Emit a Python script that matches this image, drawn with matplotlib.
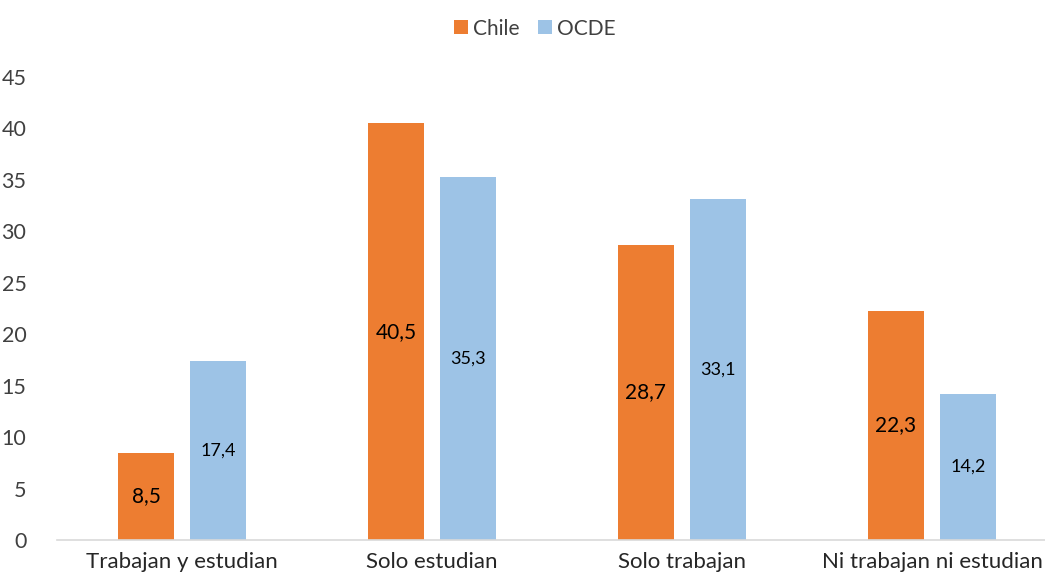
import matplotlib.pyplot as plt
import numpy as np

categorias = ['Trabajan y estudian', 'Solo estudian', 'Solo trabajan', 'Ni trabajan ni estudian']
chile = [8.5, 40.5, 28.7, 22.3]
ocde = [17.4, 35.3, 33.1, 14.2]

NARANJA = '#ED7D31'
CELESTE = '#9DC3E6'

plt.rcParams['font.family'] = ['Lato', 'DejaVu Sans']

fig = plt.figure(figsize=(10.45, 5.81), dpi=100)
ax = fig.add_axes([57 / 1045, 41 / 581, 1000 / 1045, 463 / 581])

x = np.arange(len(categorias))
w = 0.224
off = 0.144
b1 = ax.bar(x - off, chile, w, color=NARANJA, label='Chile')
b2 = ax.bar(x + off, ocde, w, color=CELESTE, label='OCDE')

def fmt(v):
    return f'{v:.1f}'.replace('.', ',')

ax.bar_label(b1, labels=[fmt(v) for v in chile], label_type='center',
             fontsize=15, color='#000000')
ax.bar_label(b2, labels=[fmt(v) for v in ocde], label_type='center',
             fontsize=13, color='#000000')

ax.set_xlim(-0.5, len(categorias) - 0.5)
ax.set_ylim(0, 45)
ax.set_yticks(np.arange(0, 46, 5))
ax.set_xticks(x)
ax.set_xticklabels(categorias)
ax.tick_params(axis='y', length=0, pad=22, labelsize=15.5, labelcolor='#404040')
ax.tick_params(axis='x', length=0, pad=9, labelsize=16, labelcolor='#262626')

for s in ['top', 'right', 'left']:
    ax.spines[s].set_visible(False)
ax.spines['bottom'].set_color('#D9D9D9')
ax.spines['bottom'].set_linewidth(1.2)

fig.legend(loc='upper center', bbox_to_anchor=(0.512, 1.0), ncol=2, frameon=False,
           fontsize=15, handlelength=0.65, handleheight=0.65, handletextpad=0.25,
           columnspacing=0.9, labelcolor='#404040')

fig.savefig('out.png', dpi=100)
